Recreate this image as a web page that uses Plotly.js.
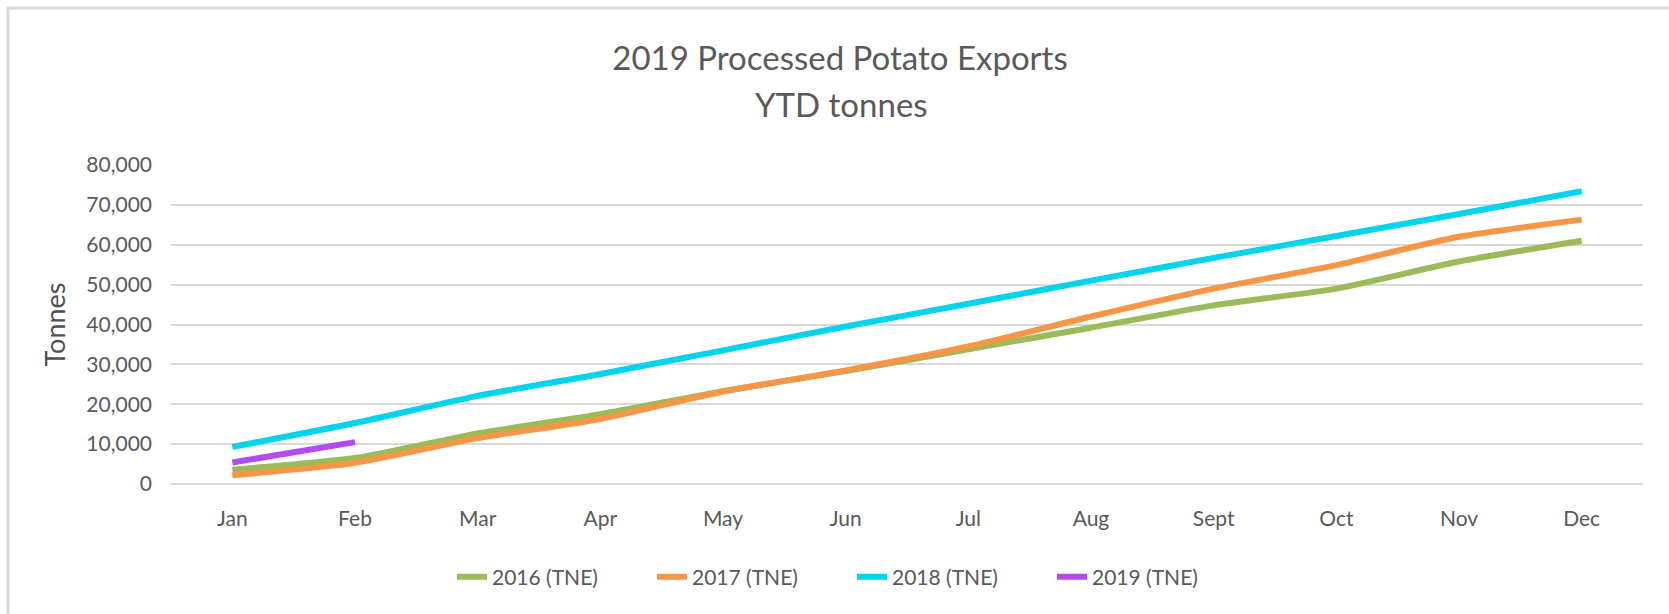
<!DOCTYPE html>
<html>
<head>
<meta charset="utf-8">
<script src="https://cdn.plot.ly/plotly-3.0.1.min.js"></script>
<style>
  html, body { margin: 0; padding: 0; background: #ffffff; }
  #chart { width: 1669px; height: 614px; }
</style>
</head>
<body>
<div id="chart"></div>
<script>
// ---- Data ----
const months = ['Jan', 'Feb', 'Mar', 'Apr', 'May', 'Jun', 'Jul', 'Aug', 'Sept', 'Oct', 'Nov', 'Dec'];
const months2019 = ['Jan', 'Feb'];
const tonnes2016 = [3600, 6500, 12700, 17500, 23300, 28300, 33800, 39200, 44800, 49000, 55800, 61000];
const tonnes2017 = [2200, 5300, 11500, 16300, 23200, 28500, 34500, 42000, 49000, 54900, 62000, 66300];
const tonnes2018 = [9300, 15300, 22100, 27600, 33500, 39500, 45200, 51000, 56700, 62200, 67700, 73400];
const tonnes2019 = [5400, 10500];
const seriesNames = ['2016 (TNE)', '2017 (TNE)', '2018 (TNE)', '2019 (TNE)'];
const titleLine1 = '2019 Processed Potato Exports';
const titleLine2 = 'YTD tonnes';
const yTitle = 'Tonnes';

// ---- Styling ----
const FONT = 'Lato, "Open Sans", "Liberation Sans", sans-serif';
const TEXT = '#595959';
const GRID = '#d9d9d9';
const colors = ['#9bbb59', '#f79646', '#00d4ec', '#b14cf0'];

function line(x, y, name, color) {
  return {
    type: 'scatter', mode: 'lines', x: x, y: y, name: name,
    line: { color: color, width: 6, shape: 'spline', smoothing: 0.6 },
    hoverinfo: 'x+y+name'
  };
}

const data = [
  line(months, tonnes2016, seriesNames[0], colors[0]),
  line(months, tonnes2017, seriesNames[1], colors[1]),
  line(months, tonnes2018, seriesNames[2], colors[2]),
  line(months2019, tonnes2019, seriesNames[3], colors[3])
];

// plot area: x 171..1643, y 165..484
const L = 171, R = 1643, T = 165, B = 484;
const W = R - L, H = B - T;
const px = v => (v - L) / W;
const py = v => (B - v) / H;

const layout = {
  width: 1669, height: 614,
  margin: { l: L, r: 1669 - R, t: T, b: 614 - B, pad: 0 },
  paper_bgcolor: '#ffffff', plot_bgcolor: '#ffffff',
  font: { family: FONT, color: TEXT, size: 21 },
  showlegend: true,
  title: {
    text: titleLine1,
    font: { family: FONT, size: 33, color: TEXT },
    x: 840 / 1669, xref: 'container', xanchor: 'center',
    y: 1 - 58 / 614, yref: 'container', yanchor: 'middle'
  },
  annotations: [{
    text: titleLine2, showarrow: false,
    xref: 'paper', yref: 'paper', x: px(841), y: py(104),
    xanchor: 'center', yanchor: 'middle',
    font: { family: FONT, size: 33, color: TEXT }
  }],
  xaxis: {
    type: 'category', categoryorder: 'array', categoryarray: months,
    range: [-0.5, 11.5],
    showgrid: false, showline: false, zeroline: false, ticks: '',
    tickfont: { family: FONT, size: 21, color: TEXT },
    ticklabelstandoff: 20,
    fixedrange: true
  },
  yaxis: {
    range: [0, 80000], dtick: 10000, tick0: 0,
    tickformat: ',d',
    showgrid: true, gridcolor: GRID, gridwidth: 2,
    zeroline: true, zerolinecolor: GRID, zerolinewidth: 2,
    showline: false, ticks: '',
    tickfont: { family: FONT, size: 21, color: TEXT },
    ticklabelstandoff: 18,
    title: { text: yTitle, standoff: 12, font: { family: FONT, size: 27, color: '#505050' } },
    fixedrange: true
  },
  legend: {
    orientation: 'h',
    x: px(452), xanchor: 'left',
    y: py(577), yanchor: 'middle',
    font: { family: FONT, size: 21, color: TEXT },
    entrywidth: 155, entrywidthmode: 'pixels',
    bgcolor: 'rgba(0,0,0,0)'
  },
  shapes: [
    { type: 'line', xref: 'paper', yref: 'paper', x0: px(7), x1: px(1669), y0: py(8), y1: py(8),
      line: { color: GRID, width: 3 } },
    { type: 'line', xref: 'paper', yref: 'paper', x0: px(8), x1: px(8), y0: py(7), y1: py(614),
      line: { color: GRID, width: 3 } }
  ]
};

Plotly.newPlot('chart', data, layout, { displayModeBar: false, staticPlot: true });
</script>
</body>
</html>
